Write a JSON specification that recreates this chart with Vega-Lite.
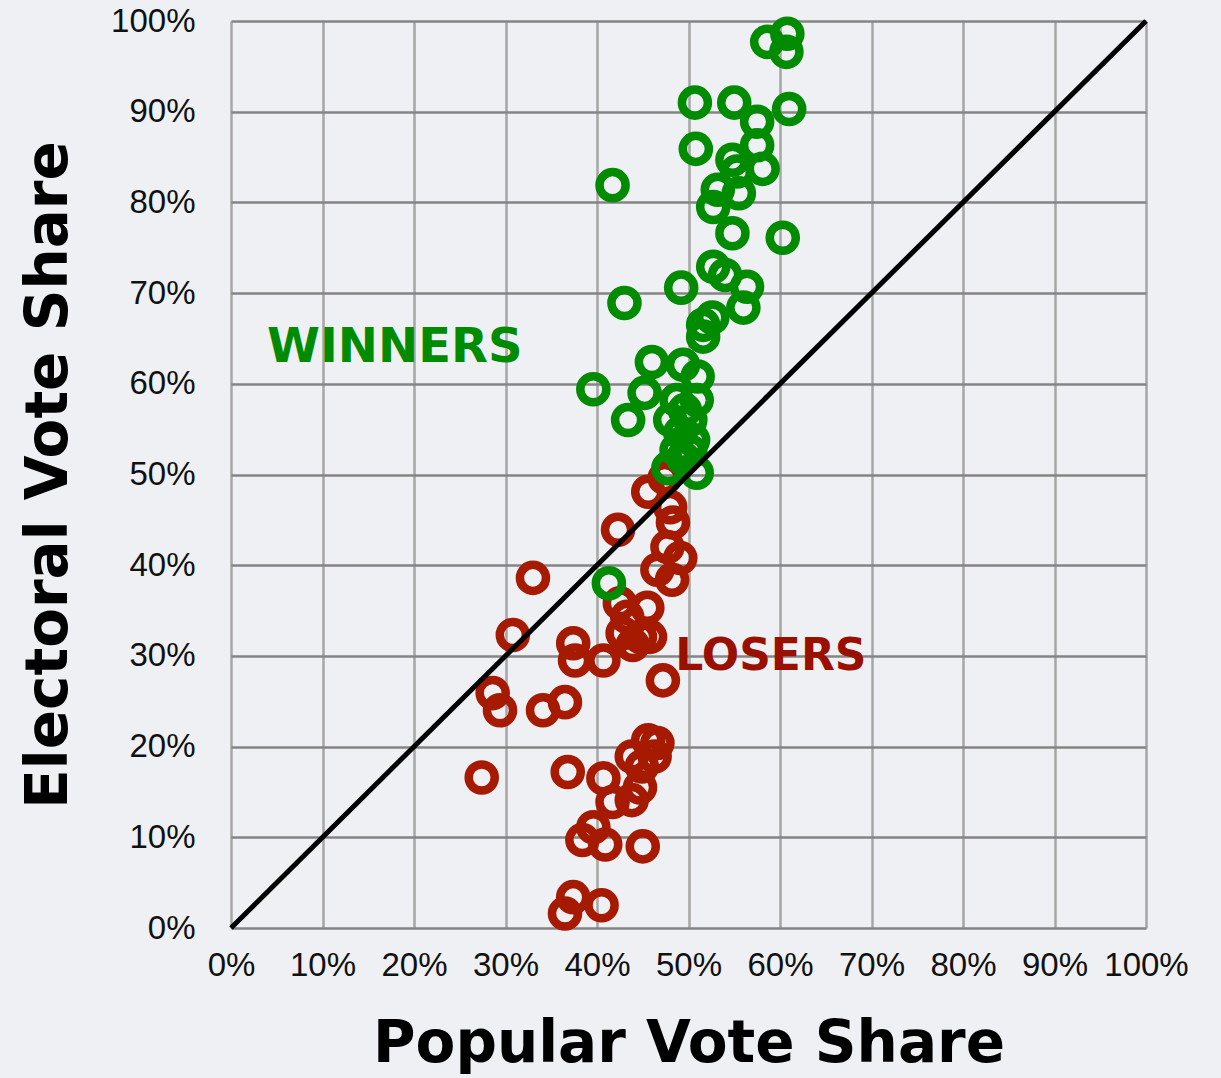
{
  "$schema": "https://vega.github.io/schema/vega-lite/v6.json",
  "width": 915,
  "height": 907,
  "autosize": {"type": "none"},
  "padding": {"left": 231, "top": 21, "right": 75, "bottom": 150},
  "background": "#eef0f3",
  "config": {
    "view": {"stroke": null, "fill": "#eef0f3"},
    "axis": {
      "domain": false,
      "ticks": false,
      "tickSize": 0,
      "labelFont": "Liberation Sans",
      "labelFontSize": 33,
      "labelColor": "#111111",
      "titleFont": "DejaVu Sans",
      "titleFontWeight": "bold",
      "titleColor": "#000000",
      "gridWidth": 2.5
    }
  },
  "datasets": {
    "points": [
      {"pop": 45.6, "ev": 48.1, "result": "Loser"},
      {"pop": 47.4, "ev": 49.6, "result": "Loser"},
      {"pop": 42.3, "ev": 43.9, "result": "Loser"},
      {"pop": 48.0, "ev": 46.4, "result": "Loser"},
      {"pop": 48.3, "ev": 44.7, "result": "Loser"},
      {"pop": 47.7, "ev": 42.0, "result": "Loser"},
      {"pop": 49.1, "ev": 40.8, "result": "Loser"},
      {"pop": 46.6, "ev": 39.5, "result": "Loser"},
      {"pop": 48.2, "ev": 38.4, "result": "Loser"},
      {"pop": 33.0, "ev": 38.6, "result": "Loser"},
      {"pop": 42.5, "ev": 35.8, "result": "Loser"},
      {"pop": 45.5, "ev": 35.3, "result": "Loser"},
      {"pop": 43.3, "ev": 34.3, "result": "Loser"},
      {"pop": 42.8, "ev": 32.5, "result": "Loser"},
      {"pop": 44.7, "ev": 32.1, "result": "Loser"},
      {"pop": 45.8, "ev": 32.1, "result": "Loser"},
      {"pop": 43.9, "ev": 31.2, "result": "Loser"},
      {"pop": 30.8, "ev": 32.3, "result": "Loser"},
      {"pop": 37.4, "ev": 31.4, "result": "Loser"},
      {"pop": 37.6, "ev": 29.5, "result": "Loser"},
      {"pop": 40.7, "ev": 29.5, "result": "Loser"},
      {"pop": 47.2, "ev": 27.3, "result": "Loser"},
      {"pop": 28.6, "ev": 25.9, "result": "Loser"},
      {"pop": 29.4, "ev": 24.0, "result": "Loser"},
      {"pop": 34.1, "ev": 24.0, "result": "Loser"},
      {"pop": 36.5, "ev": 24.9, "result": "Loser"},
      {"pop": 27.4, "ev": 16.6, "result": "Loser"},
      {"pop": 36.8, "ev": 17.2, "result": "Loser"},
      {"pop": 40.7, "ev": 16.5, "result": "Loser"},
      {"pop": 45.6, "ev": 20.7, "result": "Loser"},
      {"pop": 46.6, "ev": 20.4, "result": "Loser"},
      {"pop": 43.8, "ev": 18.9, "result": "Loser"},
      {"pop": 46.3, "ev": 18.9, "result": "Loser"},
      {"pop": 44.9, "ev": 17.8, "result": "Loser"},
      {"pop": 44.7, "ev": 15.5, "result": "Loser"},
      {"pop": 41.7, "ev": 13.9, "result": "Loser"},
      {"pop": 43.8, "ev": 14.1, "result": "Loser"},
      {"pop": 39.6, "ev": 11.1, "result": "Loser"},
      {"pop": 38.4, "ev": 9.7, "result": "Loser"},
      {"pop": 40.9, "ev": 9.2, "result": "Loser"},
      {"pop": 45.0, "ev": 9.0, "result": "Loser"},
      {"pop": 37.4, "ev": 3.4, "result": "Loser"},
      {"pop": 36.5, "ev": 1.6, "result": "Loser"},
      {"pop": 40.5, "ev": 2.5, "result": "Loser"},
      {"pop": 58.6, "ev": 97.7, "result": "Winner"},
      {"pop": 60.8, "ev": 98.6, "result": "Winner"},
      {"pop": 60.7, "ev": 96.6, "result": "Winner"},
      {"pop": 50.7, "ev": 91.0, "result": "Winner"},
      {"pop": 55.0, "ev": 91.0, "result": "Winner"},
      {"pop": 61.0, "ev": 90.3, "result": "Winner"},
      {"pop": 57.5, "ev": 88.9, "result": "Winner"},
      {"pop": 50.8, "ev": 85.9, "result": "Winner"},
      {"pop": 57.5, "ev": 86.3, "result": "Winner"},
      {"pop": 54.8, "ev": 84.7, "result": "Winner"},
      {"pop": 58.1, "ev": 83.7, "result": "Winner"},
      {"pop": 55.3, "ev": 83.4, "result": "Winner"},
      {"pop": 41.7, "ev": 81.9, "result": "Winner"},
      {"pop": 53.2, "ev": 81.4, "result": "Winner"},
      {"pop": 55.5, "ev": 81.0, "result": "Winner"},
      {"pop": 52.7, "ev": 79.5, "result": "Winner"},
      {"pop": 54.8, "ev": 76.6, "result": "Winner"},
      {"pop": 60.3, "ev": 76.1, "result": "Winner"},
      {"pop": 52.7, "ev": 72.9, "result": "Winner"},
      {"pop": 54.0, "ev": 72.0, "result": "Winner"},
      {"pop": 56.4, "ev": 70.7, "result": "Winner"},
      {"pop": 49.2, "ev": 70.6, "result": "Winner"},
      {"pop": 43.0, "ev": 68.9, "result": "Winner"},
      {"pop": 56.0, "ev": 68.4, "result": "Winner"},
      {"pop": 52.6, "ev": 67.3, "result": "Winner"},
      {"pop": 51.6, "ev": 66.5, "result": "Winner"},
      {"pop": 51.6, "ev": 65.2, "result": "Winner"},
      {"pop": 46.0, "ev": 62.4, "result": "Winner"},
      {"pop": 49.4, "ev": 62.1, "result": "Winner"},
      {"pop": 51.0, "ev": 60.8, "result": "Winner"},
      {"pop": 39.6, "ev": 59.4, "result": "Winner"},
      {"pop": 45.2, "ev": 59.0, "result": "Winner"},
      {"pop": 48.7, "ev": 58.2, "result": "Winner"},
      {"pop": 50.9, "ev": 58.2, "result": "Winner"},
      {"pop": 49.6, "ev": 57.1, "result": "Winner"},
      {"pop": 50.2, "ev": 56.0, "result": "Winner"},
      {"pop": 48.0, "ev": 56.0, "result": "Winner"},
      {"pop": 43.4, "ev": 56.0, "result": "Winner"},
      {"pop": 49.1, "ev": 54.6, "result": "Winner"},
      {"pop": 50.5, "ev": 53.8, "result": "Winner"},
      {"pop": 48.7, "ev": 52.7, "result": "Winner"},
      {"pop": 50.2, "ev": 52.5, "result": "Winner"},
      {"pop": 47.8, "ev": 50.7, "result": "Winner"},
      {"pop": 50.9, "ev": 50.2, "result": "Winner"},
      {"pop": 49.4, "ev": 51.8, "result": "Winner"},
      {"pop": 41.3, "ev": 38.0, "result": "Winner"}
    ],
    "diag": [
      {"pop": 0, "ev": 0},
      {"pop": 100, "ev": 100}
    ],
    "winners": [
      {"pop": 17.9, "ev": 64.0, "text": "WINNERS"}
    ],
    "losers": [
      {"pop": 59.0, "ev": 29.9, "text": "LOSERS"}
    ]
  },
  "encoding": {
    "x": {
      "field": "pop",
      "type": "quantitative",
      "scale": {"domain": [0, 100], "nice": false, "zero": false},
      "axis": {
        "title": "Popular Vote Share",
        "titleFontSize": 58,
        "titlePadding": 33,
        "values": [0, 10, 20, 30, 40, 50, 60, 70, 80, 90, 100],
        "labelExpr": "datum.value + '%'",
        "labelPadding": 21,
        "labelFlush": false,
        "labelOverlap": false,
        "gridColor": "#a6a6a6"
      }
    },
    "y": {
      "field": "ev",
      "type": "quantitative",
      "scale": {"domain": [0, 100], "nice": false, "zero": false},
      "axis": {
        "title": "Electoral Vote Share",
        "titleFontSize": 58,
        "titlePadding": 32,
        "values": [0, 10, 20, 30, 40, 50, 60, 70, 80, 90, 100],
        "labelExpr": "datum.value + '%'",
        "labelPadding": 36,
        "labelFlush": false,
        "labelOverlap": false,
        "gridColor": "#858585"
      }
    }
  },
  "layer": [
    {
      "data": {"name": "points"},
      "mark": {"type": "point", "shape": "circle", "filled": false, "strokeWidth": 8.5, "size": 680, "opacity": 1},
      "encoding": {
        "color": {
          "field": "result",
          "type": "nominal",
          "scale": {"domain": ["Loser", "Winner"], "range": ["#a51a00", "#008b00"]},
          "legend": null
        }
      }
    },
    {
      "data": {"name": "diag"},
      "mark": {"type": "line", "color": "#000000", "strokeWidth": 5},
      "encoding": {}
    },
    {
      "data": {"name": "winners"},
      "mark": {"type": "text", "font": "DejaVu Sans", "fontWeight": "bold", "fontSize": 48, "color": "#008b00", "align": "center", "baseline": "middle"},
      "encoding": {
        "text": {"field": "text"}
      }
    },
    {
      "data": {"name": "losers"},
      "mark": {"type": "text", "font": "DejaVu Sans", "fontWeight": "bold", "fontSize": 44, "color": "#9a1000", "align": "center", "baseline": "middle"},
      "encoding": {
        "text": {"field": "text"}
      }
    }
  ]
}
